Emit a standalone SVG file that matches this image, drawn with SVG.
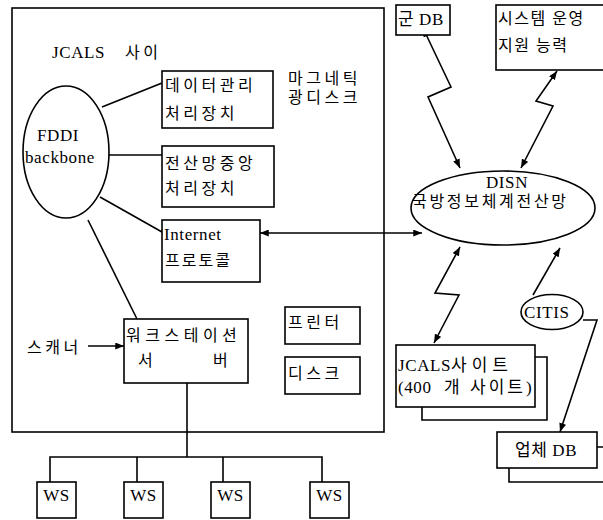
<svg xmlns="http://www.w3.org/2000/svg" width="603" height="520" viewBox="0 0 603 520">
<defs>
<style>
.ln{stroke:#000;stroke-width:1.6;fill:none}
.bx{fill:#fff;stroke:#000;stroke-width:1.6}
.t{font-family:'Liberation Serif','Times New Roman','DejaVu Serif','Noto Sans CJK KR',serif;font-size:16px;fill:#000}
.e{font-size:17px;letter-spacing:0.6px}
.k{letter-spacing:3.5px}
</style>
<marker id="ah" viewBox="0 0 10 8" refX="10" refY="4" markerWidth="9" markerHeight="7" markerUnits="userSpaceOnUse" orient="auto-start-reverse"><path d="M0,0L10,4L0,8z" fill="#000"/></marker>
</defs>
<rect width="603" height="520" fill="#fff"/>

<g id="jcals-site">
<rect class="bx" x="12" y="8" width="372" height="424"/>
<text class="t e" x="52" y="58">JCALS</text>
<text class="t k" x="125" y="58">사이</text>
</g>

<g id="connectors">
<line class="ln" x1="102" y1="107" x2="162" y2="83"/>
<line class="ln" x1="109" y1="155" x2="162" y2="155"/>
<line class="ln" x1="100" y1="197" x2="162" y2="232"/>
<line class="ln" x1="88" y1="220" x2="137" y2="319"/>
<line class="ln" x1="88" y1="346" x2="124" y2="346" marker-end="url(#ah)"/>
<polyline class="ln" points="187,383 187,457"/>
<polyline class="ln" points="50,482 50,457 322,457 322,482"/>
<line class="ln" x1="137" y1="457" x2="137" y2="482"/>
<line class="ln" x1="223" y1="457" x2="223" y2="482"/>
<line class="ln" x1="260" y1="233" x2="422" y2="233" marker-start="url(#ah)" marker-end="url(#ah)"/>
<polyline class="ln" points="423,28 451,87 428,97 460,168" marker-start="url(#ah)" marker-end="url(#ah)"/>
<polyline class="ln" points="557,71 536,101 553,106 521,168" marker-start="url(#ah)" marker-end="url(#ah)"/>
<polyline class="ln" points="460,247 435,293 459,295 434,343" marker-start="url(#ah)" marker-end="url(#ah)"/>
<line class="ln" x1="533" y1="295" x2="560" y2="248" marker-end="url(#ah)"/>
<polyline class="ln" points="583,320 597,320 560,432" marker-end="url(#ah)"/>
</g>

<g id="fddi">
<ellipse class="bx" cx="66" cy="152" rx="43" ry="66"/>
<text class="t e" x="37" y="141">FDDI</text>
<text class="t e" x="25" y="163">backbone</text>
</g>

<g id="data-mgmt">
<rect class="bx" x="162" y="71" width="111" height="57"/>
<text class="t k" x="165" y="91">데이터관리</text>
<text class="t k" x="165" y="119">처리장치</text>
</g>

<g id="magnetic-disk">
<text class="t k" x="288" y="84">마그네틱</text>
<text class="t k" x="288" y="103">광디스크</text>
</g>

<g id="network-center">
<rect class="bx" x="162" y="146" width="112" height="61"/>
<text class="t k" x="165" y="169">전산망중앙</text>
<text class="t k" x="165" y="194">처리장치</text>
</g>

<g id="internet">
<rect class="bx" x="162" y="220" width="98" height="62"/>
<text class="t e" x="164" y="240">Internet</text>
<text class="t" x="165" y="266" style="letter-spacing:2px">프로토콜</text>
</g>

<g id="workstation-server">
<rect class="bx" x="124" y="319" width="124" height="64"/>
<text class="t" x="126" y="341" style="letter-spacing:4.5px">워크스테이션</text>
<text class="t" x="138" y="366">서</text>
<text class="t" x="213" y="366">버</text>
</g>

<g id="scanner">
<text class="t k" x="27" y="353">스캐너</text>
</g>

<g id="printer">
<rect class="bx" x="285" y="307" width="75" height="37"/>
<text class="t k" x="288" y="328">프린터</text>
</g>

<g id="disk">
<rect class="bx" x="285" y="357" width="75" height="37"/>
<text class="t k" x="288" y="379">디스크</text>
</g>

<g id="ws1"><rect class="bx" x="37" y="482" width="39" height="36"/><text class="t e" x="56.5" y="501" text-anchor="middle">WS</text></g>
<g id="ws2"><rect class="bx" x="124" y="482" width="39" height="36"/><text class="t e" x="143.5" y="501" text-anchor="middle">WS</text></g>
<g id="ws3"><rect class="bx" x="211" y="482" width="39" height="36"/><text class="t e" x="230.5" y="501" text-anchor="middle">WS</text></g>
<g id="ws4"><rect class="bx" x="310" y="482" width="39" height="36"/><text class="t e" x="329.5" y="501" text-anchor="middle">WS</text></g>

<g id="army-db">
<rect class="bx" x="396" y="5" width="54" height="30"/>
<text class="t e" x="398" y="25">군 DB</text>
</g>

<g id="sys-support">
<rect class="bx" x="496" y="5" width="120" height="65"/>
<text class="t" x="498" y="24" style="letter-spacing:1.5px">시스템  운영</text>
<text class="t" x="498" y="51" style="letter-spacing:1.5px">지원  능력</text>
</g>

<g id="disn">
<ellipse class="bx" cx="503" cy="208" rx="92" ry="37"/>
<text class="t e" x="507" y="188" text-anchor="middle">DISN</text>
<text class="t" x="412" y="207" style="letter-spacing:2.7px">국방정보체계전산망</text>
</g>

<g id="citis">
<ellipse class="bx" cx="552" cy="312" rx="31" ry="17.5"/>
<text class="t e" x="524" y="318">CITIS</text>
</g>

<g id="jcals-sites">
<polyline class="ln" points="535,357 547,357 547,420 422,420 422,407"/>
<rect class="bx" x="396" y="345" width="139" height="62"/>
<text class="t e" x="398" y="371">JCALS<tspan x="451" style="letter-spacing:5px">사이트</tspan></text>
<text class="t e" x="398" y="393">(400<tspan x="444">개</tspan><tspan x="470" style="letter-spacing:3px">사이트)</tspan></text>
</g>

<g id="vendor-db">
<polyline class="ln" points="597,447 612,447 612,482 509,482 509,468"/>
<rect class="bx" x="497" y="432" width="100" height="36"/>
<text class="t e" x="515" y="456">업체 DB</text>
</g>
</svg>
